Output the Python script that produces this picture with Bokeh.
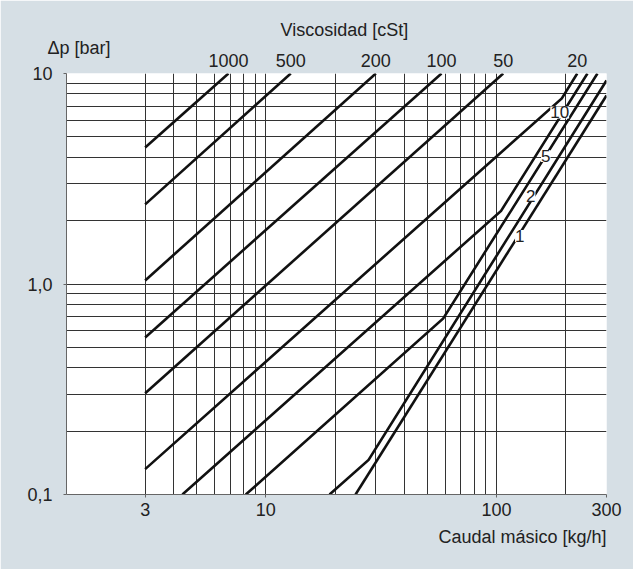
from bokeh.plotting import figure
from bokeh.models import LogAxis, FixedTicker, Range1d, LabelSet, ColumnDataSource, Title
from bokeh.core.properties import value
from bokeh.embed import file_html
from bokeh.resources import INLINE

# ---------------- data ----------------
# mass flow [kg/h] and pressure drop [bar] along each viscosity curve
q_1000 = [3, 6.89];            dp_1000 = [4.45, 10]
q_500 = [3, 12.83];            dp_500 = [2.39, 10]
q_200 = [3, 30.0];             dp_200 = [1.04, 10]
q_100 = [3, 57.8];             dp_100 = [0.557, 10]
q_50 = [3, 107.0];             dp_50 = [0.303, 10]
q_20 = [3, 192.0, 224.0];      dp_20 = [0.132, 7.62, 10]
q_10 = [4.35, 104.7, 248.0];   dp_10 = [0.1, 2.225, 10]
q_5 = [8.19, 58.8, 274.0];     dp_5 = [0.1, 0.686, 10]
q_2 = [18.9, 27.9, 300.0];     dp_2 = [0.1, 0.146, 9.26]
q_1 = [24.5, 300.0];           dp_1 = [0.1, 7.86]

curves_q = [q_1000, q_500, q_200, q_100, q_50, q_20, q_10, q_5, q_2, q_1]
curves_dp = [dp_1000, dp_500, dp_200, dp_100, dp_50, dp_20, dp_10, dp_5, dp_2, dp_1]

# viscosity labels on the top axis (at the top ends of the curves)
top_labels = ["1000", "500", "200", "100", "50", "20"]
top_curves_q = [q_1000, q_500, q_200, q_100, q_50, q_20]

# viscosity labels written on the curves
curve_label_text = ["10", "5", "2", "1"]
curve_label_q = [188.0, 163.6, 140.8, 126.2]
curve_label_dp = [6.53, 4.06, 2.62, 1.69]

# axis ticks and grid
x_ticks = [3, 10, 100, 300]
x_tick_labels = ["3", "10", "100", "300"]
y_ticks = [0.1, 1, 10]
y_tick_labels = ["0,1", "1,0", "10"]
x_grid = [3, 4, 5, 6, 7, 8, 9, 10, 20, 30, 40, 50, 60, 70, 80, 90, 100, 200, 300]
y_grid = [0.1, 0.2, 0.3, 0.4, 0.5, 0.6, 0.7, 0.8, 0.9, 1, 2, 3, 4, 5, 6, 7, 8, 9, 10]

x_title = "Caudal másico [kg/h]"
y_title = "Δp [bar]"
top_title = "Viscosidad [cSt]"

# ---------------- styling ----------------
FONT = "Liberation Sans"
TXT = "#222222"
BG = "#d6dfe5"

p = figure(width=633, height=569, x_axis_type="log", y_axis_type="log",
           x_range=Range1d(1.368, 300), y_range=Range1d(0.1, 10),
           output_backend="svg", toolbar_location=None,
           min_border_left=66, min_border_right=27, min_border_top=73, min_border_bottom=75)
p.background_fill_color = "white"
p.border_fill_color = BG
p.outline_line_color = None

for ax in (p.xaxis, p.yaxis):
    ax.axis_line_color = "#666666"
    ax.major_tick_line_color = "#666666"
    ax.major_tick_in = 0
    ax.major_tick_out = 3
    ax.minor_tick_line_color = None
    ax.major_label_text_font = FONT
    ax.major_label_text_font_size = "18px"
    ax.major_label_text_color = TXT

p.xaxis.ticker = FixedTicker(ticks=x_ticks)
p.xaxis.major_label_overrides = dict(zip(x_ticks, x_tick_labels))
p.xaxis.major_label_standoff = 5
p.yaxis.ticker = FixedTicker(ticks=y_ticks)
p.yaxis.major_label_overrides = dict(zip(y_ticks, y_tick_labels))
p.yaxis.major_label_standoff = 11

p.xgrid.ticker = FixedTicker(ticks=x_grid)
p.ygrid.ticker = FixedTicker(ticks=y_grid)
for g in (p.xgrid, p.ygrid):
    g.grid_line_color = "#333333"
    g.grid_line_width = 1
    g.grid_line_alpha = 1

top_ticks = [c[-1] for c in top_curves_q]
top_axis = LogAxis(ticker=FixedTicker(ticks=top_ticks),
                   major_label_overrides=dict(zip(top_ticks, top_labels)),
                   axis_line_color=None, major_tick_line_color=None,
                   minor_tick_line_color=None, major_tick_out=0, major_tick_in=0,
                   major_label_standoff=7,
                   major_label_text_font=FONT, major_label_text_font_size="18px",
                   major_label_text_color=TXT)
p.add_layout(top_axis, "above")


def make_title(text, align, offset, standoff):
    return Title(text=text, align=align, offset=offset, standoff=standoff,
                 text_font=FONT, text_font_size="18px", text_font_style="normal",
                 text_color=TXT)


p.add_layout(make_title(y_title, "left", -19, -14.5), "above")
p.add_layout(make_title(top_title, "left", 214, 5.5), "above")
p.add_layout(make_title(x_title, "right", 0, 13), "below")

for qs, dps in zip(curves_q, curves_dp):
    p.line(qs, dps, line_color="#111111", line_width=2.6, line_join="miter")

src = ColumnDataSource(dict(q=curve_label_q, dp=curve_label_dp, t=curve_label_text))
p.add_layout(LabelSet(x="q", y="dp", text="t", source=src, text_align="center",
                      text_baseline="middle", text_font=value(FONT),
                      text_font_size=value("17px"), text_color=TXT,
                      background_fill_color="white"))

open("out.html", "w").write(file_html(p, INLINE))
